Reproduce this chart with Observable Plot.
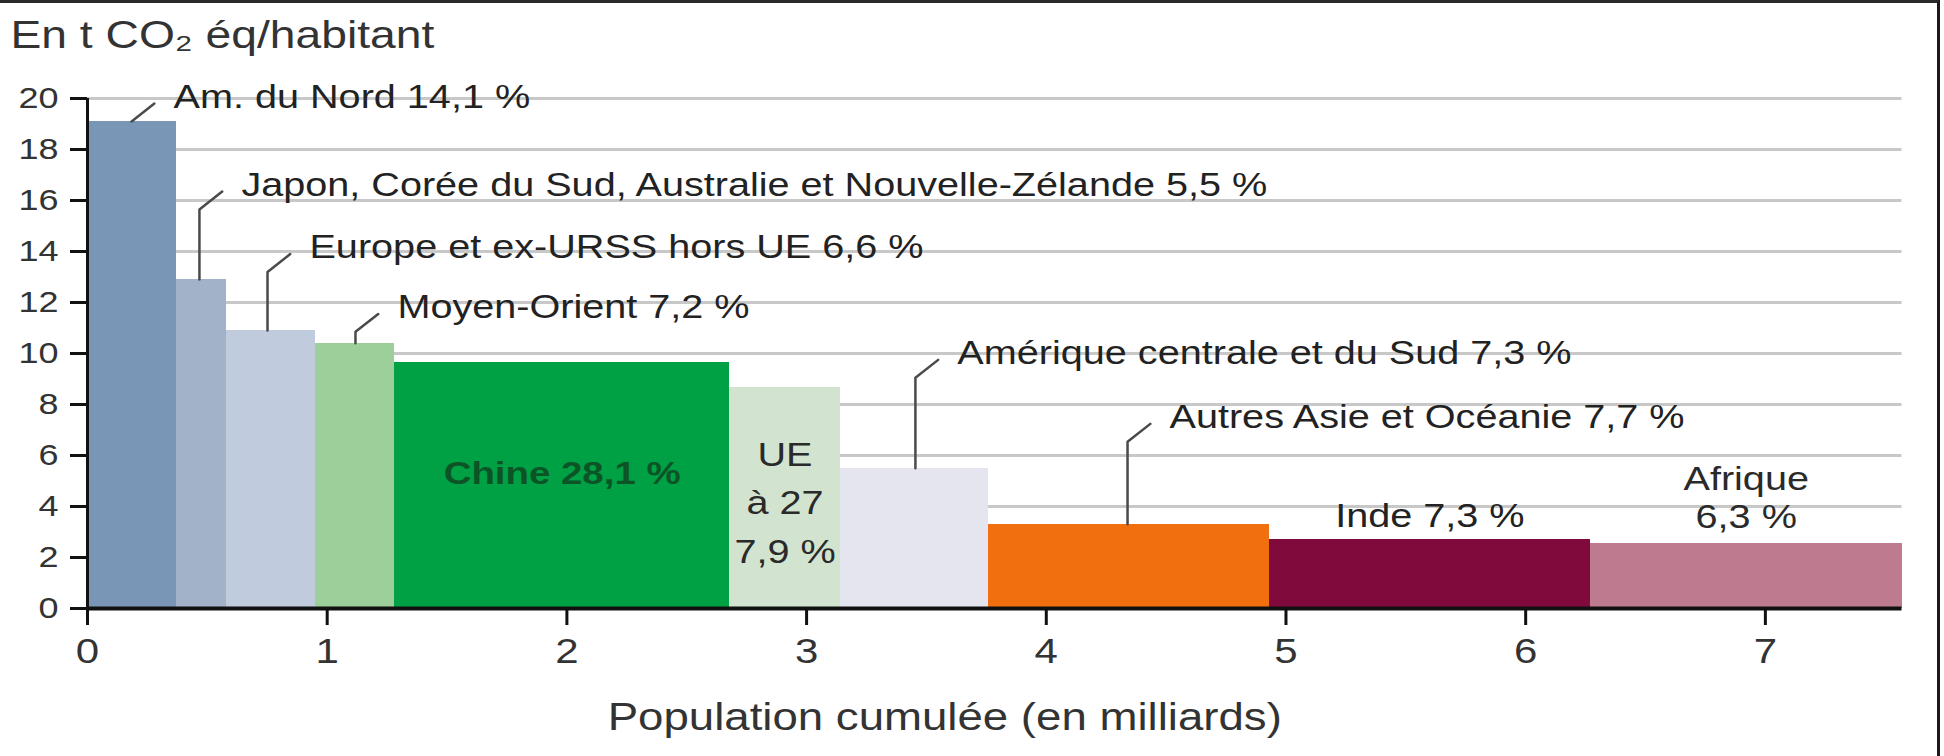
<!DOCTYPE html>
<html><head><meta charset="utf-8">
<script src="https://cdn.jsdelivr.net/npm/d3@7"></script>
<script src="https://cdn.jsdelivr.net/npm/@observablehq/plot@0.6"></script>
<style>
html,body{margin:0;padding:0;background:#fff;}
#wrap{position:relative;width:1944px;height:756px;overflow:hidden;background:#fff;}
#frame{position:absolute;left:-10px;top:0;width:1950px;height:800px;border-top:3px solid #2a2a2a;border-right:3px solid #1a1a1a;box-sizing:border-box;pointer-events:none;}
</style></head><body>
<div id="wrap"><div id="chart"></div><div id="frame"></div></div>
<script>
// ---- DATA ----
const regions = ["Am. du Nord", "Japon, Corée du Sud, Australie et Nouvelle-Zélande", "Europe et ex-URSS hors UE", "Moyen-Orient", "Chine", "UE à 27", "Amérique centrale et du Sud", "Autres Asie et Océanie", "Inde", "Afrique"];
const population = [0.37, 0.21, 0.37, 0.33, 1.40, 0.46, 0.62, 1.17, 1.34, 1.30]; // milliards
const emissions = [19.1, 12.9, 10.9, 10.4, 9.65, 8.67, 5.5, 3.3, 2.7, 2.55];     // t CO2 éq/hab
const shares = ["14,1", "5,5", "6,6", "7,2", "28,1", "7,9", "7,3", "7,7", "7,3", "6,3"]; // % des émissions
const labels = ["Am. du Nord 14,1 %", "Japon, Corée du Sud, Australie et Nouvelle-Zélande 5,5 %", "Europe et ex-URSS hors UE 6,6 %", "Moyen-Orient 7,2 %", "Chine 28,1 %", "UE\nà 27\n7,9 %", "Amérique centrale et du Sud 7,3 %", "Autres Asie et Océanie 7,7 %", "Inde 7,3 %", "Afrique\n6,3 %"];
const yTicks = [0, 2, 4, 6, 8, 10, 12, 14, 16, 18, 20];
const xTicks = [0, 1, 2, 3, 4, 5, 6, 7];
const titleText = "En t CO\u2082 éq/habitant";
const xLabelText = "Population cumulée (en milliards)";

// ---- STYLE / LAYOUT ----
const colors = ["#7a96b6", "#a2b2c8", "#c1cbde", "#9ccf9a", "#00a044", "#d2e4cf", "#e4e5ee", "#f26f0f", "#800a3c", "#be7a8e"];
// callouts: region index, leader x (data units), label y (data units)
const callouts = [
  {i: 0, lx: 0.184, ty: 20.05},
  {i: 1, lx: 0.467, ty: 16.6},
  {i: 2, lx: 0.751, ty: 14.15},
  {i: 3, lx: 1.118, ty: 11.8},
  {i: 6, lx: 3.454, ty: 10.0},
  {i: 7, lx: 4.339, ty: 7.49}
];
const inside = [
  {i: 4, ty: 5.29, fill: "#0c5426", weight: "bold"},
  {i: 8, ty: 3.6, fill: "#222", weight: "normal"}
];
const multi = [
  {i: 5, ty: 4.31},
  {i: 9, ty: 4.39}
];

const x2s = d3.cumsum(population);
const table = regions.map((r, i) => ({region: r, x1: x2s[i] - population[i], x2: x2s[i], y: emissions[i], color: colors[i], label: labels[i]}));
const mid = d => (d.x1 + d.x2) / 2;

const leaders = [];
callouts.forEach((c, k) => {
  const d = table[c.i];
  const bend = Math.max(d.y, c.ty - 0.95);
  leaders.push({k, x: c.lx, y: d.y}, {k, x: c.lx, y: bend}, {k, x: c.lx + 0.095, y: c.ty - 0.25});
});

const font = "'Liberation Sans', Arial, sans-serif";

const chart = Plot.plot({
  width: 1944,
  height: 756,
  marginLeft: 87,
  marginRight: 42.5,
  marginTop: 98,
  marginBottom: 148,
  style: {fontFamily: font, background: "transparent"},
  x: {domain: [0, 7.57]},
  y: {domain: [0, 20]},
  color: {type: "identity"},
  marks: [
    Plot.gridY(yTicks.filter(t => t > 0), {stroke: "#c8c8c8", strokeOpacity: 1, strokeWidth: 3}),
    Plot.rectY(table, {x1: "x1", x2: "x2", y: "y", fill: "color", shapeRendering: "crispEdges"}),
    Plot.line(leaders, {x: "x", y: "y", z: "k", stroke: "#4a4a4a", strokeWidth: 2.5, curve: "linear"}),
    Plot.text(callouts, {x: c => c.lx + 0.175, y: "ty", text: c => table[c.i].label, textAnchor: "start", fontSize: 33, fill: "#222"}),
    Plot.text(inside.slice(0, 1), {x: c => mid(table[c.i]), y: "ty", text: c => table[c.i].label, fontSize: 32, fontWeight: "bold", fill: "fill"}),
    Plot.text(inside.slice(1), {x: c => mid(table[c.i]), y: "ty", text: c => table[c.i].label, fontSize: 33, fill: "fill"}),
    Plot.text(multi.slice(0, 1), {x: c => mid(table[c.i]), y: "ty", text: c => table[c.i].label, fontSize: 33, lineHeight: 1.47, fill: "#2a2a2a"}),
    Plot.text(multi.slice(1), {x: c => mid(table[c.i]), y: "ty", text: c => table[c.i].label, fontSize: 33, lineHeight: 1.15, fill: "#2a2a2a"}),
    Plot.ruleX([0], {y1: 0, y2: 20, stroke: "#111", strokeWidth: 3}),
    Plot.ruleY([0], {stroke: "#111", strokeWidth: 4}),
    Plot.axisY(yTicks, {tickSize: 17, tickPadding: 12, fontSize: 30, strokeWidth: 3, stroke: "#111", fill: "#333", label: null, tickFormat: d => String(d)}),
    Plot.axisX(xTicks, {tickSize: 17, tickPadding: 13, fontSize: 35, strokeWidth: 3, stroke: "#111", fill: "#333", label: null, tickFormat: d => String(d)}),
    Plot.text([titleText], {frameAnchor: "top-left", lineAnchor: "middle", dx: -77, dy: -63, textAnchor: "start", fontSize: 38.5, fill: "#333"}),
    Plot.text([xLabelText], {frameAnchor: "bottom", lineAnchor: "middle", dx: -50, dy: 109, fontSize: 38, fill: "#333"})
  ]
});
document.getElementById("chart").appendChild(chart);

// horizontal stretch of the lettering, as in the reference
const S = 1.2;
chart.querySelectorAll("text").forEach(t => {
  const spans = t.querySelectorAll("tspan");
  const targets = spans.length ? Array.from(spans) : [t];
  targets.forEach(el => {
    const L = el.getComputedTextLength();
    if (L > 0) { el.setAttribute("textLength", L * S); el.setAttribute("lengthAdjust", "spacingAndGlyphs"); }
  });
});
</script>
</body></html>
